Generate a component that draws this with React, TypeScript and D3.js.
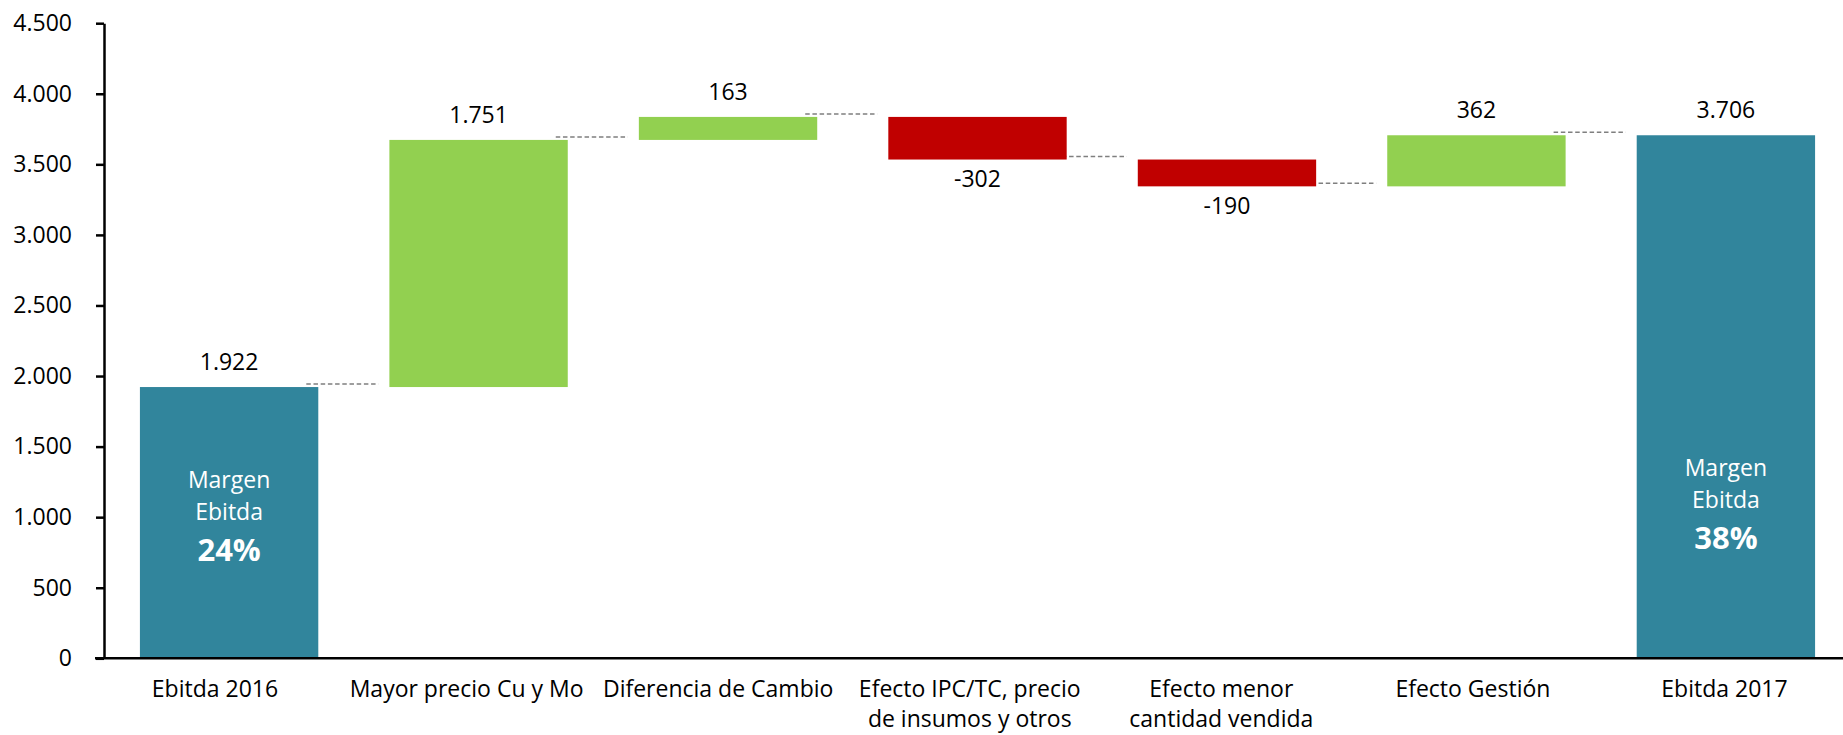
import React, { useEffect, useRef } from 'react';
import * as d3 from 'd3';

const categoryLines = [
  ['Ebitda 2016'],
  ['Mayor precio Cu y Mo'],
  ['Diferencia de Cambio'],
  ['Efecto IPC/TC, precio', 'de insumos y otros'],
  ['Efecto menor', 'cantidad vendida'],
  ['Efecto Gestión'],
  ['Ebitda 2017'],
];
const values = [1922, 1751, 163, -302, -190, 362, 3706];
const isTotal = [true, false, false, false, false, false, true];
const margins = ['24%', '', '', '', '', '', '38%'];
const yTicks = [0, 500, 1000, 1500, 2000, 2500, 3000, 3500, 4000, 4500];

const W = 1843;
const H = 735;
const FONT = "'Open Sans', sans-serif";

const locale = d3.formatLocale({ decimal: ',', thousands: '.', grouping: [3], currency: ['', ''], minus: '-' });
const fmt = locale.format(',d');

export default function App() {
  const ref = useRef<SVGSVGElement>(null);

  useEffect(() => {
    const svg = d3.select(ref.current);
    svg.selectAll('*').remove();

    const names = categoryLines.map((l) => l.join(' '));
    const x = d3.scaleBand().domain(names).range([104, 1851]).paddingInner(0.285).paddingOuter(0.144);
    // excel spreads the category labels a bit differently from the bars
    const xl = d3.scalePoint().domain(names).range([215, 1724.5]);
    const y = d3.scaleLinear().domain([0, 4500]).range([658.3, 23.2]);
    const bw = x.bandwidth();

    // running totals for the waterfall
    let run = 0;
    const bars = values.map((v, i) => {
      let lo, hi;
      if (isTotal[i]) {
        lo = 0; hi = v; run = v;
      } else {
        const start = run;
        run = run + v;
        lo = Math.min(start, run); hi = Math.max(start, run);
      }
      return { name: names[i], v, lo, hi, end: run, i };
    });

    // dashed connectors (under the bars)
    svg.append('g').selectAll('line')
      .data(bars.slice(0, -1))
      .enter().append('line')
      .attr('x1', (d) => x(d.name)! + bw - 12)
      .attr('x2', (d) => x(names[d.i + 1])! - 11)
      .attr('y1', (d) => y(d.end) - 3)
      .attr('y2', (d) => y(d.end) - 3)
      .attr('stroke', '#7f7f7f')
      .attr('stroke-width', 1.5)
      .attr('stroke-dasharray', '4.5,2.7');

    svg.append('g').selectAll('rect')
      .data(bars)
      .enter().append('rect')
      .attr('x', (d) => x(d.name)!)
      .attr('y', (d) => y(d.hi))
      .attr('width', bw)
      .attr('height', (d) => y(d.lo) - y(d.hi))
      .attr('fill', (d) => (isTotal[d.i] ? '#31859c' : d.v >= 0 ? '#92d050' : '#c00000'));

    // value labels
    svg.append('g').selectAll('text')
      .data(bars)
      .enter().append('text')
      .attr('x', (d) => x(d.name)! + bw / 2)
      .attr('y', (d) => (d.v < 0 && !isTotal[d.i] ? y(d.lo) + 27.5 : y(d.hi) - 17))
      .attr('text-anchor', 'middle')
      .attr('font-family', FONT)
      .attr('font-size', 23)
      .attr('fill', '#000')
      .text((d) => fmt(d.v));

    // margin annotations inside total bars
    const anchors: Record<number, number> = { 0: 980, 6: 1065 };
    bars.filter((d) => isTotal[d.i]).forEach((d) => {
      const cx = x(d.name)! + bw / 2;
      const by = y(anchors[d.i]);
      const g = svg.append('g').attr('fill', '#fff').attr('font-family', FONT).attr('text-anchor', 'middle');
      g.append('text').attr('x', cx).attr('y', by - 32).attr('font-size', 23).text('Margen');
      g.append('text').attr('x', cx).attr('y', by).attr('font-size', 23).text('Ebitda');
      g.append('text').attr('x', cx).attr('y', by + 41).attr('font-size', 31).attr('font-weight', 700).text(margins[d.i]);
    });

    // y axis
    const ya = svg.append('g').attr('transform', 'translate(104,0)')
      .call(d3.axisLeft(y).tickValues(yTicks).tickFormat((v) => fmt(v as number)).tickSize(8).tickSizeOuter(0).tickPadding(24));
    ya.select('.domain').attr('stroke', '#000').attr('stroke-width', 2.5);
    ya.selectAll('.tick line').attr('stroke', '#000').attr('stroke-width', 2.5);
    ya.selectAll('.tick text').attr('font-family', FONT).attr('font-size', 23).attr('fill', '#000');

    // x axis line
    svg.append('line')
      .attr('x1', 95).attr('x2', W)
      .attr('y1', y(0)).attr('y2', y(0))
      .attr('stroke', '#000').attr('stroke-width', 2.5);

    // category labels
    const cg = svg.append('g').attr('font-family', FONT).attr('font-size', 23).attr('fill', '#000').attr('text-anchor', 'middle');
    categoryLines.forEach((lines, i) => {
      const cx = xl(names[i])!;
      const t = cg.append('text').attr('x', cx).attr('y', 697);
      lines.forEach((ln, k) => {
        t.append('tspan').attr('x', cx).attr('dy', k === 0 ? 0 : 30).text(ln);
      });
    });
  }, []);

  return <svg ref={ref} width={W} height={H} style={{ position: 'absolute', left: 0, top: 0, background: '#fff' }} />;
}
